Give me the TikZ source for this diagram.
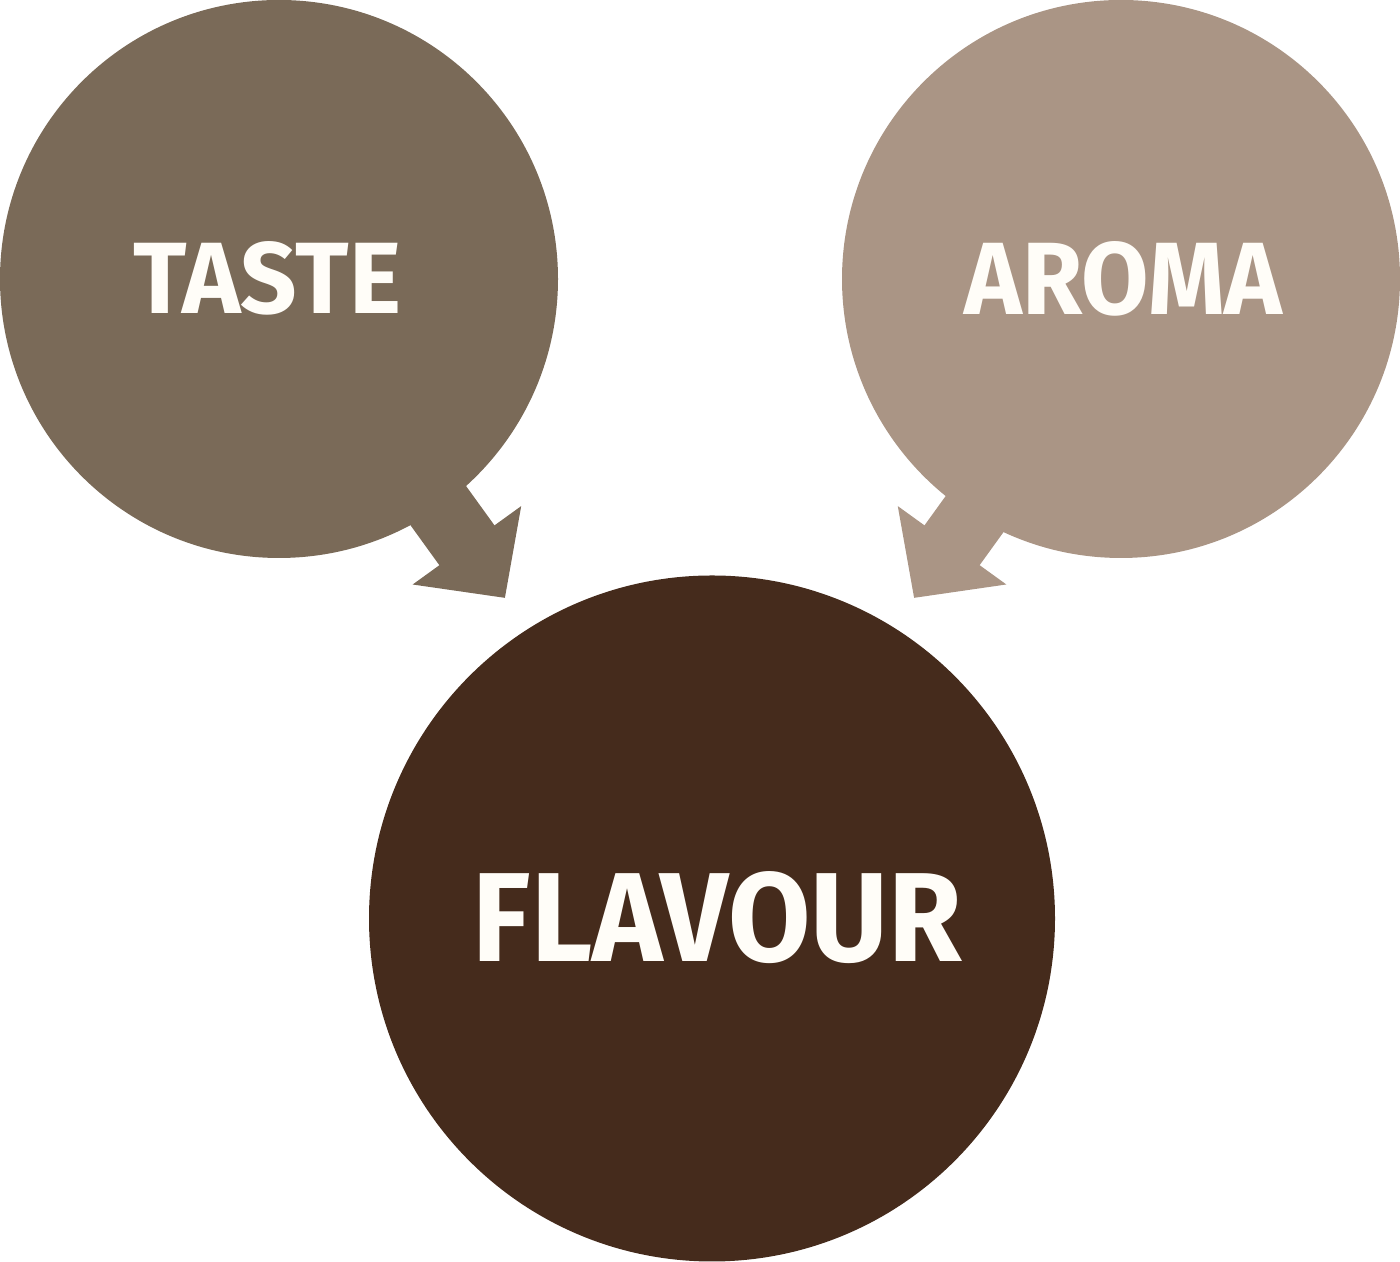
\documentclass[tikz,border=0pt]{standalone}
\usepackage{fontspec}
\setmainfont{Fira Sans}
\usetikzlibrary{arrows.meta}

\definecolor{tastebrown}{HTML}{7A6A58}
\definecolor{aromabrown}{HTML}{AA9585}
\definecolor{flavourbrown}{HTML}{452B1C}
\definecolor{capwhite}{HTML}{FFFDF8}

\begin{document}
\begin{tikzpicture}[
  bubble/.style={circle, inner sep=0pt},
  pointer/.style={line width=0.68cm, -{Triangle[length=0.65cm, width=1.30cm]}},
  word/.style={text=capwhite, font=\bfseries, inner sep=0pt}
]

\useasboundingbox (0,0) rectangle (14,12.62);

\node (taste) at (2.79,9.83) [bubble, fill=tastebrown, minimum size=5.58cm] {};
\node (aroma) at (11.21,9.83) [bubble, fill=aromabrown, minimum size=5.58cm] {};
\node (flavour) at (7.12,3.435) [bubble, fill=flavourbrown, minimum size=6.86cm] {};

\coordinate (tastetail) at (3.50,8.785);
\coordinate (tastetip) at (5.05,6.64);
\coordinate (aromatail) at (10.685,8.78);
\coordinate (aromatip) at (9.14,6.64);

\draw [pointer, tastebrown] (tastetail) -- (tastetip);
\draw [pointer, aromabrown] (aromatail) -- (aromatip);

\node (tasteword) at (2.675,9.835) [word] {\resizebox{2.67cm}{0.72cm}{TASTE}};
\node (aromaword) at (11.235,9.835) [word] {\resizebox{3.18cm}{0.73cm}{AROMA}};
\node (flavourword) at (7.175,3.445) [word] {\resizebox{4.89cm}{0.90cm}{FLAVOUR}};

\end{tikzpicture}
\end{document}
